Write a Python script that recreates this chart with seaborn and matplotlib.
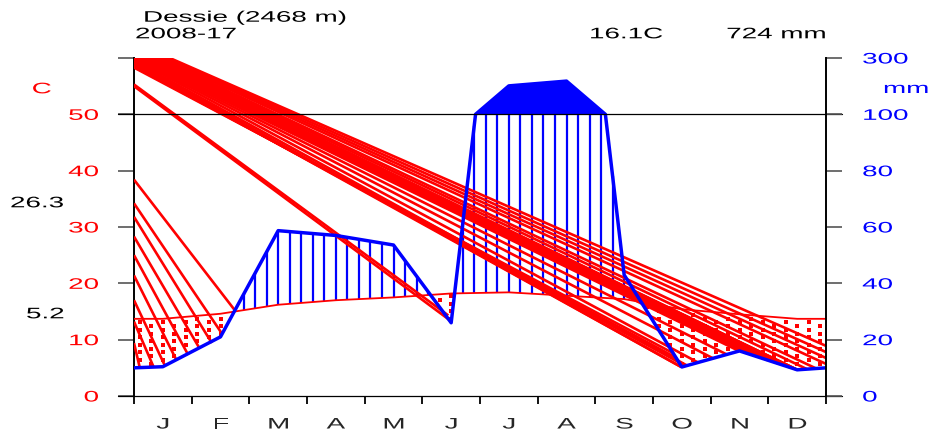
import numpy as np
import pandas as pd
import seaborn as sns
import matplotlib.pyplot as plt
from matplotlib.collections import LineCollection
from matplotlib.patheffects import AbstractPathEffect
from matplotlib.transforms import Affine2D

# monthly climate values
months = ["J", "F", "M", "A", "M", "J", "J", "A", "S", "O", "N", "D"]
temp = [13.7, 14.6, 16.2, 17.0, 17.5, 18.2, 18.4, 17.8, 17.2, 15.4, 14.5, 13.7]
prec = [10.4, 21.0, 58.7, 57.0, 53.6, 26.0, 201.0, 218.0, 43.0, 10.3, 16.0, 9.3]
temp_edge = 13.7   # value drawn at the Jan 1 / Dec 31 edges
prec_edge = 10.0

station = "Dessie (2468 m)"
period = "2008-17"
mean_temp = "16.1C"
total_prec = "724 mm"
max_warm = "26.3"
min_cold = "5.2"

left_ticks = ["0", "10", "20", "30", "40", "50", ""]
right_ticks = ["0", "20", "40", "60", "80", "100", "300"]

# red hatch strokes (x in months, y on the C scale)
left_y0 = [38.4, 34.2, 31.8, 28.3, 25.0, 21.4, 17.0, 13.2, 9.4]
left_x1 = [1.75, 1.53, 1.35, 1.14, 0.94, 0.74, 0.54, 0.34, 0.10]
left_y1 = [15.2, 11.0, 9.4, 8.4, 7.3, 6.3, 5.3, 5.15, 5.05]

jun_y0 = [55.3, 55.0]
jun_x1 = [5.45, 5.51]
jun_y1 = [14.3, 13.2]

bundle_x0 = [0.62, 0.57, 0.52, 0.47, 0.42, 0.38, 0.34, 0.30, 0.26, 0.22, 0.18, 0.15,
             0.12, 0.09, 0.06, 0.03, 0.0, 0.0, 0.0, 0.0, 0.0, 0.0, 0.0, 0.0]
bundle_y0 = [60] * 17 + [59.8, 59.5, 59.2, 58.9, 58.7, 58.5, 58.3]
bundle_x1 = [12.0, 12.0, 12.0, 12.0, 11.83, 11.67, 11.5, 11.5, 11.5, 11.38, 11.18, 10.99,
             10.8, 10.61, 10.49, 10.28, 10.04, 9.78, 9.59, 9.49, 9.49, 9.45, 9.40, 9.35]
bundle_y1 = [8.9, 7.8, 6.75, 5.7, 4.88, 4.77, 4.65, 4.65, 4.65, 5.05, 5.72, 6.35,
             7.0, 7.63, 8.0, 7.37, 6.69, 5.95, 5.41, 5.15, 5.15, 5.97, 6.8, 7.6]

RED = "#ff0000"
BLUE = "#0000ff"
SX = 1.82  # the reference text is drawn horizontally stretched


class Stretch(AbstractPathEffect):
    def __init__(self, sx=SX, anchor="left"):
        super().__init__()
        self.sx = sx
        self.anchor = anchor

    def draw_path(self, renderer, gc, tpath, affine, rgbFace=None):
        v = tpath.vertices
        if len(v) == 0:
            return
        xmax = v[:, 0].max()
        cx = {"left": 0.0, "right": xmax, "center": xmax / 2}[self.anchor]
        pre = Affine2D().translate(-cx, 0).scale(self.sx, 1).translate(cx, 0)
        renderer.draw_path(gc, tpath, pre + affine, rgbFace)


def mm_to_c(p):
    p = np.asarray(p, float)
    return np.where(p <= 100, p / 2, 50 + (p - 100) / 20)


sns.set_style("white")
plt.rcParams["font.family"] = ["Liberation Sans", "DejaVu Sans"]
plt.rcParams["font.size"] = 11

W, H = 929, 435
fig, ax = plt.subplots(figsize=(W / 100, H / 100), dpi=100)
fig.subplots_adjust(left=134 / W, right=826 / W, bottom=38 / H, top=376 / H)

xpos = np.array([0] + [i + 0.5 for i in range(12)] + [12])
temp_full = np.array([temp_edge] + temp + [temp_edge])
prec_full = np.array([prec_edge] + prec + [prec_edge])

# precipitation curve with a vertex where it crosses 100 mm (scale change)
xs, ps = [xpos[0]], [prec_full[0]]
for i in range(1, len(xpos)):
    a, b = prec_full[i - 1], prec_full[i]
    if (a - 100) * (b - 100) < 0:
        f = (100 - a) / (b - a)
        xs.append(xpos[i - 1] + f * (xpos[i] - xpos[i - 1]))
        ps.append(100.0)
    xs.append(xpos[i])
    ps.append(b)
xs = np.array(xs)
pc = mm_to_c(ps)

# humid period: vertical blue lines
xv = np.arange(0.1, 12, 0.2)
p_at = mm_to_c(np.interp(xv, xpos, prec_full))
t_at = np.interp(xv, xpos, temp_full)
wet = p_at > t_at + 0.3
ax.vlines(xv[wet], t_at[wet], np.minimum(p_at[wet], 50), color=BLUE, lw=1.6, zorder=2)

# very humid part (>100 mm) filled
ax.fill_between(xs, 50, pc, where=pc >= 50, color=BLUE, lw=0, zorder=2)

# dry period: red dots
dot_x, dot_y = [], []
for k, x in enumerate(xv):
    off = 0.66 if k % 2 else 0.0
    for y in np.arange(1.11 + off, 25, 1.33):
        if p_at[k] + 0.45 < y < t_at[k] - 0.45:
            dot_x.append(x)
            dot_y.append(y)
ax.scatter(dot_x, dot_y, marker="s", s=6, color=RED, lw=0, zorder=3)

# red hatch strokes
segs = [[(0, a), (b, c)] for a, b, c in zip(left_y0, left_x1, left_y1)]
segs += [[(0, a), (b, c)] for a, b, c in zip(jun_y0, jun_x1, jun_y1)]
segs += [[(a, b), (c, d)] for a, b, c, d in zip(bundle_x0, bundle_y0, bundle_x1, bundle_y1)]
ax.add_collection(LineCollection(segs, colors=RED, linewidths=1.9, zorder=3))

# temperature and precipitation curves
tdf = pd.DataFrame({"x": xpos, "t": temp_full})
pdf = pd.DataFrame({"x": xs, "p": pc})
sns.lineplot(data=tdf, x="x", y="t", color=RED, lw=1.3, estimator=None, sort=False,
             ax=ax, zorder=4)
sns.lineplot(data=pdf, x="x", y="p", color=BLUE, lw=2.5, estimator=None, sort=False,
             ax=ax, zorder=5)

# reference lines at 0 and 50 C (100 mm), running across the tick marks
for yl in (0, 50):
    ax.plot([-0.28, 12.28], [yl, yl], color="black", lw=0.9, clip_on=False, zorder=6)

ax.set_xlim(0, 12)
ax.set_ylim(0, 60)
ax.set_xlabel("")
ax.set_ylabel("")
for s in ("top", "right", "bottom"):
    ax.spines[s].set_visible(False)
ax.spines["left"].set_color("black")
ax.spines["left"].set_linewidth(1.4)

ax.set_xticks(range(13))
ax.set_xticklabels([])
ax.set_xticks(np.arange(0.5, 12, 1), minor=True)
ax.set_xticklabels(months, minor=True)
ax.tick_params(axis="x", which="major", direction="out", length=6, width=1.3,
               color="black", bottom=True)
ax.tick_params(axis="x", which="minor", length=0, pad=15.5, labelsize=11)

ax.set_yticks(range(0, 61, 10))
ax.set_yticklabels(left_ticks)
ax.tick_params(axis="y", direction="out", length=11.5, width=1.2, color="#555555",
               labelcolor=RED, pad=14, left=True, labelsize=11)

ax2 = ax.twinx()
ax2.set_ylim(0, 60)
ax2.set_yticks(range(0, 61, 10))
ax2.set_yticklabels(right_ticks)
ax2.tick_params(axis="y", direction="out", length=11.5, width=1.2, color="#555555",
                labelcolor=BLUE, pad=14.5, right=True, labelsize=11)
for s in ("top", "left", "bottom"):
    ax2.spines[s].set_visible(False)
ax2.spines["right"].set_color("black")
ax2.spines["right"].set_linewidth(1.4)
ax2.grid(False)
ax.grid(False)

for lab in ax.get_yticklabels():
    lab.set_path_effects([Stretch(anchor="right")])
for lab in ax2.get_yticklabels():
    lab.set_path_effects([Stretch(anchor="left")])
for lab in ax.get_xticklabels(minor=True):
    lab.set_path_effects([Stretch(anchor="center")])


def put(x, y, s, color="black", ha="left"):
    fig.text(x / W, 1 - y / H, s, color=color, ha=ha, va="baseline", fontsize=11,
             path_effects=[Stretch(anchor=ha)])


put(143, 22.7, station)
put(135, 39.3, period)
put(589, 39.3, mean_temp)
put(825.5, 39.3, total_prec, ha="right")
put(31.7, 94.3, "C", color=RED)
put(883, 94, "mm", color=BLUE)
put(10, 208.3, max_warm)
put(26, 319.3, min_cold)

plt.savefig("out.png", dpi=100)
